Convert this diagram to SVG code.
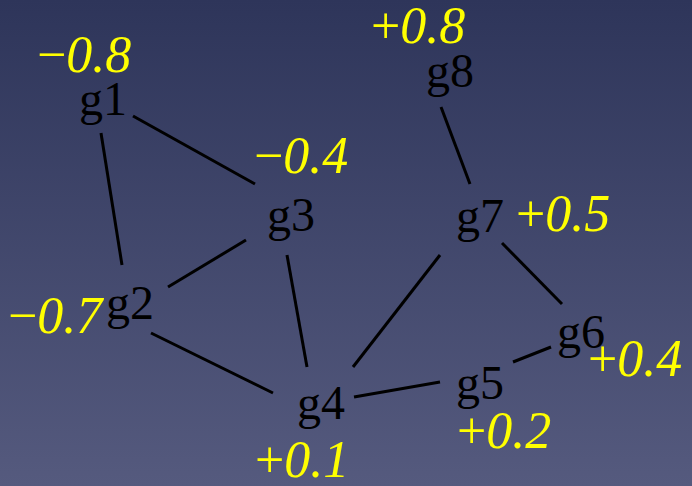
<svg xmlns="http://www.w3.org/2000/svg" width="692" height="486" viewBox="0 0 692 486">
<defs>
<linearGradient id="bg" x1="0" y1="0" x2="0" y2="1">
<stop offset="0" stop-color="#2e355a"/>
<stop offset="1" stop-color="#555a7e"/>
</linearGradient>
<style>
.n{font-family:"Liberation Serif","Times New Roman",serif;font-size:48px;fill:#000}
.v{font-family:"Liberation Serif","Times New Roman",serif;font-size:52px;fill:#ffff00}
.d{font-style:italic}
.e line{stroke:#000;stroke-width:3}
</style>
</defs>
<rect width="692" height="486" fill="url(#bg)"/>
<g id="connectors" class="e">
<line x1="133" y1="116" x2="255" y2="184"/>
<line x1="101" y1="133" x2="122" y2="265"/>
<line x1="168" y1="287" x2="246" y2="240"/>
<line x1="151" y1="333" x2="273" y2="393"/>
<line x1="287" y1="255" x2="307" y2="367"/>
<line x1="353" y1="367" x2="440" y2="255"/>
<line x1="354" y1="397" x2="440" y2="382"/>
<line x1="513" y1="362" x2="551" y2="347"/>
<line x1="502" y1="243" x2="562" y2="304"/>
<line x1="441" y1="107" x2="470" y2="184"/>
</g>
<g id="g1"><text class="n" x="79" y="115">g1</text><text class="v" x="37" y="72">−<tspan class="d">0.8</tspan></text></g>
<g id="g2"><text class="n" x="106" y="319">g2</text><text class="v" x="8" y="333">−<tspan class="d">0.7</tspan></text></g>
<g id="g3"><text class="n" x="267" y="231">g3</text><text class="v" x="254" y="173">−<tspan class="d">0.4</tspan></text></g>
<g id="g4"><text class="n" x="297" y="419">g4</text><text class="v" x="255" y="477">+<tspan class="d">0.1</tspan></text></g>
<g id="g5"><text class="n" x="456" y="399">g5</text><text class="v" x="457" y="448">+<tspan class="d">0.2</tspan></text></g>
<g id="g6"><text class="n" x="557" y="348">g6</text><text class="v" x="588" y="376">+<tspan class="d">0.4</tspan></text></g>
<g id="g7"><text class="n" x="456" y="232">g7</text><text class="v" x="516" y="231">+<tspan class="d">0.5</tspan></text></g>
<g id="g8"><text class="n" x="426" y="87">g8</text><text class="v" x="371" y="43">+<tspan class="d">0.8</tspan></text></g>
</svg>
